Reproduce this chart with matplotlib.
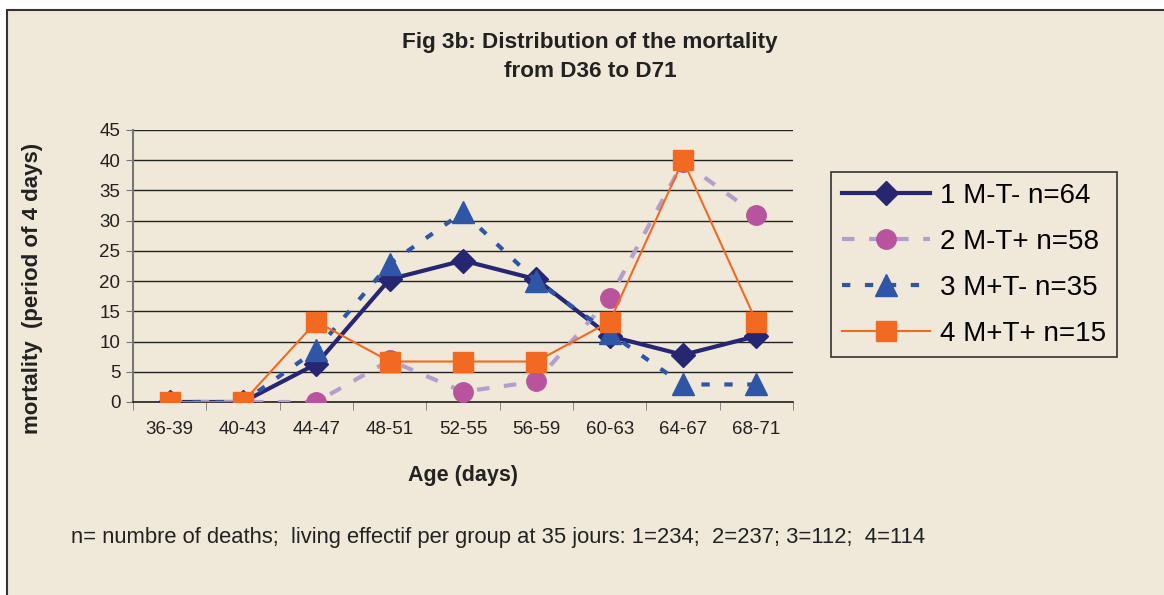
import numpy as np
import matplotlib.pyplot as plt
from matplotlib.patches import Rectangle

# data: mortality (% of deaths per 4-day period)
vekove_tridy = ['36-39', '40-43', '44-47', '48-51', '52-55', '56-59', '60-63', '64-67', '68-71']
skupina1 = [0, 0, 6.3, 20.3, 23.4, 20.3, 10.9, 7.8, 10.9]
skupina2 = [0, 0, 0, 6.9, 1.7, 3.4, 17.2, 39.7, 31.0]
skupina3 = [0, 0, 8.6, 22.9, 31.4, 20.0, 11.4, 2.9, 2.9]
skupina4 = [0, 0, 13.3, 6.7, 6.7, 6.7, 13.3, 40.0, 13.3]
popisky = ['1 M-T- n=64', '2 M-T+ n=58', '3 M+T- n=35', '4 M+T+ n=15']

pozadi = '#F0E8D8'
text_barva = '#222222'
plt.rcParams['font.family'] = ['Liberation Sans', 'DejaVu Sans']

fig = plt.figure(figsize=(11.64, 5.95), dpi=100)
fig.patch.set_facecolor('white')
# ramecek grafu
fig.patches.append(Rectangle((7/1164, -0.01), 1.02, 1 - 10/595 + 0.01, transform=fig.transFigure,
                             facecolor=pozadi, edgecolor='#333333', linewidth=1.5, zorder=-1))

ax = fig.add_axes([133/1164, 1 - 402/595, 660/1164, 272/595])
ax.set_facecolor(pozadi)
x = np.arange(len(vekove_tridy))

ax.plot(x, skupina1, color='#262673', lw=3, marker='D', ms=12, mfc='#262673', mec='#262673',
        label=popisky[0], zorder=3)
ax.plot(x, skupina2, color='#B49FCC', lw=3, ls=(0, (3, 3.5)), marker='o', ms=14, mfc='#B8549E',
        mec='#B8549E', label=popisky[1], zorder=3)
ax.plot(x, skupina3, color='#2F56A6', lw=3, ls=(0, (2, 3.5)), marker='^', ms=16, mfc='#2F56A6',
        mec='#2F56A6', label=popisky[2], zorder=3)
ax.plot(x, skupina4, color='#F26A21', lw=1.5, marker='s', ms=14, mfc='#F26A21', mec='#F26A21',
        label=popisky[3], zorder=3)

ax.set_xlim(-0.5, len(vekove_tridy) - 0.5)
ax.set_ylim(0, 45)
ax.set_yticks(np.arange(0, 46, 5))
ax.set_xticks(x)
ax.set_xticklabels(vekove_tridy)
ax.set_xticks(np.arange(-0.5, len(vekove_tridy)), minor=True)
ax.tick_params(axis='x', which='major', length=0, labelsize=13.5, pad=14, colors=text_barva)
ax.tick_params(axis='x', which='minor', length=6, color='#777777', direction='out')
ax.tick_params(axis='y', length=5, labelsize=13.5, pad=4, colors='#777777', labelcolor=text_barva)
ax.grid(axis='y', color=text_barva, lw=1)
ax.set_axisbelow(True)
for s in ['top', 'right']:
    ax.spines[s].set_visible(False)
ax.spines['left'].set_color('#777777')
ax.spines['left'].set_linewidth(1.5)
ax.spines['bottom'].set_color(text_barva)
ax.spines['bottom'].set_linewidth(1.2)

# popisky os
fig.text(463/1164, 1 - 476/595, 'Age (days)', ha='center', va='center', fontsize=15.5,
         fontweight='bold', color=text_barva)
fig.text(33/1164, 1 - 288/595, 'mortality  (period of 4 days)', ha='center', va='center',
         rotation=90, fontsize=16, fontweight='bold', color=text_barva)

fig.text(590/1164, 1 - 57/595, 'Fig 3b: Distribution of the mortality\nfrom D36 to D71',
         ha='center', va='center', fontsize=16.2, fontweight='bold', linespacing=1.5,
         color=text_barva)

fig.text(71/1164, 1 - 537/595,
         'n= numbre of deaths;  living effectif per group at 35 jours: 1=234;  2=237; 3=112;  4=114',
         ha='left', va='center', fontsize=15.8, color=text_barva)

leg = fig.legend(loc='upper left', bbox_to_anchor=(831/1164, 1 - 172/595), fontsize=20,
                 handlelength=3.2, frameon=True, fancybox=False, edgecolor='#333333',
                 facecolor=pozadi, framealpha=1, labelspacing=0.72, borderpad=0.38,
                 handletextpad=0.35, borderaxespad=0)
leg.get_frame().set_linewidth(1.2)

fig.savefig('out.png', dpi=100, facecolor=fig.get_facecolor())
